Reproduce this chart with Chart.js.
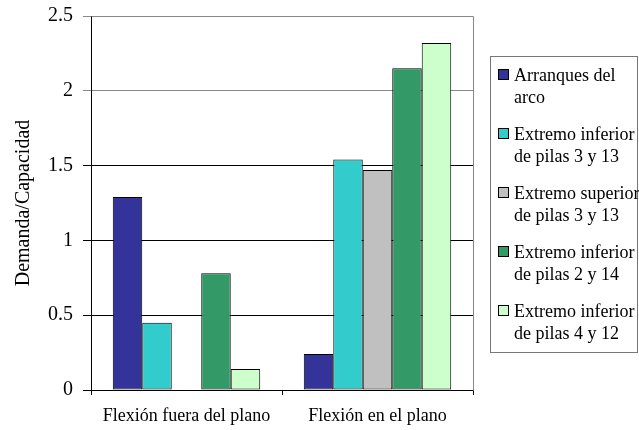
<!DOCTYPE html>
<html lang="es">
<head>
<meta charset="UTF-8" />
<title>Demanda/Capacidad</title>
<script src="https://cdn.jsdelivr.net/npm/chart.js"></script>
<style>
  html, body { margin: 0; padding: 0; background: #fff; }
  #wrap { width: 639px; height: 430px; }
</style>
</head>
<body>
<div id="wrap"><canvas id="chart" width="639" height="430"></canvas></div>
<script>
// categorías y series
const categories = ["Flexión fuera del plano", "Flexión en el plano"];
const seriesNames = [
  ["Arranques del", "arco"],
  ["Extremo inferior", "de pilas 3 y 13"],
  ["Extremo superior", "de pilas 3 y 13"],
  ["Extremo inferior", "de pilas 2 y 14"],
  ["Extremo inferior", "de pilas 4 y 12"]
];
const arranques = [1.29, 0.24];
const infPilas3y13 = [0.45, 1.54];
const supPilas3y13 = [null, 1.47];
const infPilas2y14 = [0.78, 2.15];
const infPilas4y12 = [0.14, 2.32];
const yTicks = [0, 0.5, 1, 1.5, 2, 2.5];

const seriesValues = [arranques, infPilas3y13, supPilas3y13, infPilas2y14, infPilas4y12];
const seriesColors = ["#333399", "#33CCCC", "#C0C0C0", "#339966", "#CCFFCC"];

const serif = "'Liberation Serif', 'Times New Roman', serif";
Chart.defaults.font.family = serif;
Chart.defaults.color = "#000";

// marco gris del área de trazado (arriba y derecha)
const plotFrame = {
  id: "plotFrame",
  beforeDatasetsDraw(chart) {
    const { ctx, chartArea: a } = chart;
    ctx.save();
    ctx.strokeStyle = "#888";
    ctx.lineWidth = 1;
    ctx.beginPath();
    ctx.moveTo(Math.round(a.left) + 0.5, Math.round(a.top) + 0.5);
    ctx.lineTo(Math.round(a.right) + 0.5, Math.round(a.top) + 0.5);
    ctx.lineTo(Math.round(a.right) + 0.5, Math.round(a.bottom) + 0.5);
    ctx.stroke();
    ctx.restore();
  }
};

// leyenda con etiquetas de dos líneas
const boxLegend = {
  id: "boxLegend",
  afterDraw(chart) {
    const ctx = chart.ctx;
    ctx.save();
    ctx.strokeStyle = "#777";
    ctx.lineWidth = 1;
    ctx.strokeRect(490.5, 56.5, 147, 296);
    ctx.font = "18px " + serif;
    ctx.textBaseline = "alphabetic";
    ctx.textAlign = "left";
    chart.data.datasets.forEach((ds, i) => {
      const base = 81 + i * 59;
      ctx.fillStyle = ds.backgroundColor;
      ctx.fillRect(498, base - 12, 10, 10);
      ctx.strokeStyle = "#000";
      ctx.strokeRect(498.5, base - 11.5, 10, 10);
      ctx.fillStyle = "#000";
      ds.label.forEach((line, k) => ctx.fillText(line, 514, base + k * 22));
    });
    ctx.restore();
  }
};

new Chart(document.getElementById("chart"), {
  type: "bar",
  data: {
    labels: categories,
    datasets: seriesValues.map((vals, i) => ({
      label: seriesNames[i],
      data: vals,
      backgroundColor: seriesColors[i],
      borderColor: "#000",
      borderWidth: 1,
      borderSkipped: false,
      categoryPercentage: 0.772,
      barPercentage: 1
    }))
  },
  options: {
    responsive: false,
    animation: false,
    devicePixelRatio: 1,
    layout: { padding: { left: 0, right: 166, top: 16, bottom: 0 } },
    plugins: { legend: { display: false }, tooltip: { enabled: false } },
    scales: {
      x: {
        offset: true,
        grid: { offset: true, drawOnChartArea: false, drawTicks: true, tickLength: 5, color: "#000" },
        border: { color: "#000", width: 1 },
        ticks: { font: { size: 18 }, padding: 10, maxRotation: 0 },
        afterFit(scale) { scale.height = 40; }
      },
      y: {
        min: 0,
        max: 2.5,
        afterBuildTicks(scale) { scale.ticks = yTicks.map(v => ({ value: v })); },
        ticks: { font: { size: 20 }, padding: 10, callback: v => String(v) },
        grid: {
          color: c => (c.tick && c.tick.value >= 2 ? "#888" : "#000"),
          tickLength: 8
        },
        border: { color: "#000", width: 1 },
        title: { display: true, text: "Demanda/Capacidad", font: { size: 20 }, padding: { top: 12, bottom: 0 } },
        afterFit(scale) {
          scale.width = 91;
          scale.paddingTop = 0;
          scale.paddingBottom = 0;
        }
      }
    }
  },
  plugins: [plotFrame, boxLegend]
});
</script>
</body>
</html>
